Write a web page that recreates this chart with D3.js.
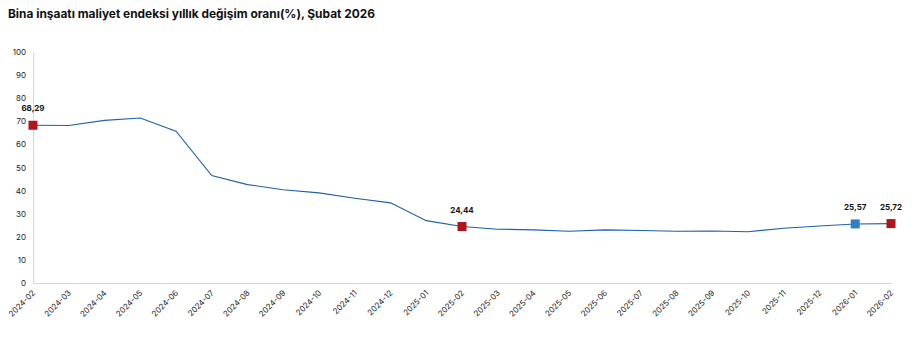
<!DOCTYPE html>
<html><head><meta charset="utf-8">
<script src="https://cdn.jsdelivr.net/npm/d3@7"></script>
<style>body{margin:0;background:#fff;font-family:Inter,Roboto,"Noto Sans",sans-serif}</style>
</head><body><svg id="c" width="912" height="339"></svg>
<script>
const months = ["2024-02","2024-03","2024-04","2024-05","2024-06","2024-07","2024-08","2024-09","2024-10","2024-11","2024-12","2025-01","2025-02","2025-03","2025-04","2025-05","2025-06","2025-07","2025-08","2025-09","2025-10","2025-11","2025-12","2026-01","2026-02"];
const values = [68.29,68.2,70.4,71.4,65.7,46.5,42.6,40.4,39.0,36.7,34.7,27.0,24.44,23.3,23.0,22.4,23.0,22.7,22.4,22.5,22.2,23.7,24.7,25.57,25.72];
const yTicks = [0,10,20,30,40,50,60,70,80,90,100];
const highlights = [
  {month:"2024-02", color:"#b0151d", label:"68,29"},
  {month:"2025-02", color:"#b0151d", label:"24,44"},
  {month:"2026-01", color:"#2f7fc1", label:"25,57"},
  {month:"2026-02", color:"#b0151d", label:"25,72"}
];
const title = "Bina inşaatı maliyet endeksi yıllık değişim oranı(%), Şubat 2026";

const svg = d3.select("#c");
const x = d3.scalePoint().domain(months).range([33, 891]);
const y = d3.scaleLinear().domain([0,100]).range([283, 52]);

svg.append("text").attr("x",8).attr("y",18).attr("font-size",11.9).attr("font-weight",700)
  .attr("fill","#111").text(title);

const ya = svg.append("g").attr("transform","translate(33,0)")
  .call(d3.axisLeft(y).tickValues(yTicks).tickSize(0).tickPadding(7));
ya.select(".domain").attr("stroke","#d6d6d6");
ya.selectAll("text").attr("font-size",8).attr("fill","#222").attr("font-family","Inter,Roboto,sans-serif");

const xa = svg.append("g").attr("transform","translate(0,283)")
  .call(d3.axisBottom(x).tickSize(0).tickPadding(6));
xa.select(".domain").attr("stroke","#d6d6d6");
xa.selectAll("text").attr("font-size",8).attr("fill","#222").attr("font-family","Inter,Roboto,sans-serif")
  .attr("text-anchor","end").attr("dx","-0.2em").attr("dy","0.6em")
  .attr("transform", "rotate(-45, 0, 6)");

svg.append("path").datum(values)
  .attr("fill","none").attr("stroke","#1d62a8").attr("stroke-width",1.1)
  .attr("d", d3.line().x((d,i)=>x(months[i])).y(d=>y(d)));

const hi = highlights.map(h => ({...h, v: values[months.indexOf(h.month)]}));
svg.selectAll("rect.m").data(hi).join("rect").attr("class","m")
  .attr("x", d=>x(d.month)-4.5).attr("y", d=>y(d.v)-4.5)
  .attr("width",9).attr("height",9).attr("fill",d=>d.color);
svg.selectAll("text.l").data(hi).join("text").attr("class","l")
  .attr("x", d=>x(d.month)).attr("y", d=>y(d.v)-14)
  .attr("text-anchor","middle").attr("font-size",8).attr("font-weight",700).attr("fill","#111")
  .text(d=>d.label);
</script></body></html>
